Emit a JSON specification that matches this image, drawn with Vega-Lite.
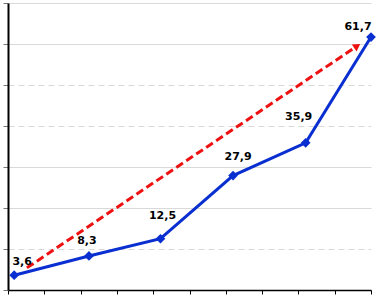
{
  "$schema": "https://vega.github.io/schema/vega-lite/v6.json",
  "width": 363,
  "height": 287,
  "padding": {"left": 8, "top": 3, "right": 6, "bottom": 12},
  "autosize": {"type": "none"},
  "background": "white",
  "config": {
    "view": {"stroke": null},
    "locale": {"number": {"decimal": ",", "thousands": ".", "grouping": [3], "currency": ["", " €"]}},
    "font": "DejaVu Sans"
  },
  "datasets": {
    "pts": [
      {"x": 0.17, "y": 3.6},
      {"x": 2.23, "y": 8.3},
      {"x": 4.2, "y": 12.5},
      {"x": 6.2, "y": 27.9},
      {"x": 8.2, "y": 35.9},
      {"x": 10, "y": 61.7}
    ],
    "arrow": [
      {"x": 0.52, "y": 5.4},
      {"x": 9.6, "y": 59.4}
    ],
    "head": [
      {"x": 9.62, "y": 59.5}
    ]
  },
  "encoding": {
    "x": {"field": "x", "type": "quantitative", "scale": {"domain": [0, 10], "nice": false, "zero": false},
      "axis": {"title": null, "labels": false, "values": [0,1,2,3,4,5,6,7,8,9,10], "labelOverlap": false, "grid": false, "domainColor": "#000000", "domainWidth": 1.5, "tickColor": "#000000", "tickSize": 4}},
    "y": {"field": "y", "type": "quantitative", "scale": {"domain": [0, 70], "nice": false},
      "axis": {"title": null, "labels": false, "values": [0,10,20,30,40,50,60,70], "grid": true, "gridColor": "#d9d9d9", "gridWidth": 1,
        "gridDash": {"condition": {"test": "datum.value == 10 || datum.value == 50 || datum.value == 40", "value": [6, 4]}, "value": []},
        "domainColor": "#000000", "domainWidth": 2, "tickColor": "#777777", "tickSize": 5}}
  },
  "layer": [
    {
      "data": {"name": "arrow"},
      "mark": {"type": "line", "color": "#ee1111", "strokeWidth": 3, "strokeDash": [8, 4]}
    },
    {
      "data": {"name": "head"},
      "mark": {"type": "point", "shape": "triangle-right", "angle": 326, "filled": true, "color": "#ee1111", "size": 70, "opacity": 1}
    },
    {
      "data": {"name": "pts"},
      "mark": {"type": "line", "color": "#0a2fd0", "strokeWidth": 3}
    },
    {
      "data": {"name": "pts"},
      "mark": {"type": "point", "shape": "diamond", "filled": true, "color": "#0a2fd0", "size": 95, "opacity": 1}
    },
    {
      "data": {"name": "pts"},
      "transform": [{"filter": "datum.y == 3.6"}],
      "mark": {"type": "text", "fontWeight": "bold", "fontSize": 11, "dx": 8, "dy": -10, "baseline": "alphabetic", "color": "#000000"},
      "encoding": {"text": {"field": "y", "format": ".1f"}}
    },
    {
      "data": {"name": "pts"},
      "transform": [{"filter": "datum.y == 8.3"}],
      "mark": {"type": "text", "fontWeight": "bold", "fontSize": 11, "dx": -2, "dy": -12, "baseline": "alphabetic", "color": "#000000"},
      "encoding": {"text": {"field": "y", "format": ".1f"}}
    },
    {
      "data": {"name": "pts"},
      "transform": [{"filter": "datum.y == 12.5"}],
      "mark": {"type": "text", "fontWeight": "bold", "fontSize": 11, "dx": 2, "dy": -20, "baseline": "alphabetic", "color": "#000000"},
      "encoding": {"text": {"field": "y", "format": ".1f"}}
    },
    {
      "data": {"name": "pts"},
      "transform": [{"filter": "datum.y == 27.9"}],
      "mark": {"type": "text", "fontWeight": "bold", "fontSize": 11, "dx": 5, "dy": -16, "baseline": "alphabetic", "color": "#000000"},
      "encoding": {"text": {"field": "y", "format": ".1f"}}
    },
    {
      "data": {"name": "pts"},
      "transform": [{"filter": "datum.y == 35.9"}],
      "mark": {"type": "text", "fontWeight": "bold", "fontSize": 11, "dx": -7, "dy": -23, "baseline": "alphabetic", "color": "#000000"},
      "encoding": {"text": {"field": "y", "format": ".1f"}}
    },
    {
      "data": {"name": "pts"},
      "transform": [{"filter": "datum.y == 61.7"}],
      "mark": {"type": "text", "fontWeight": "bold", "fontSize": 11, "dx": -13, "dy": -7, "baseline": "alphabetic", "color": "#000000"},
      "encoding": {"text": {"field": "y", "format": ".1f"}}
    }
  ]
}
